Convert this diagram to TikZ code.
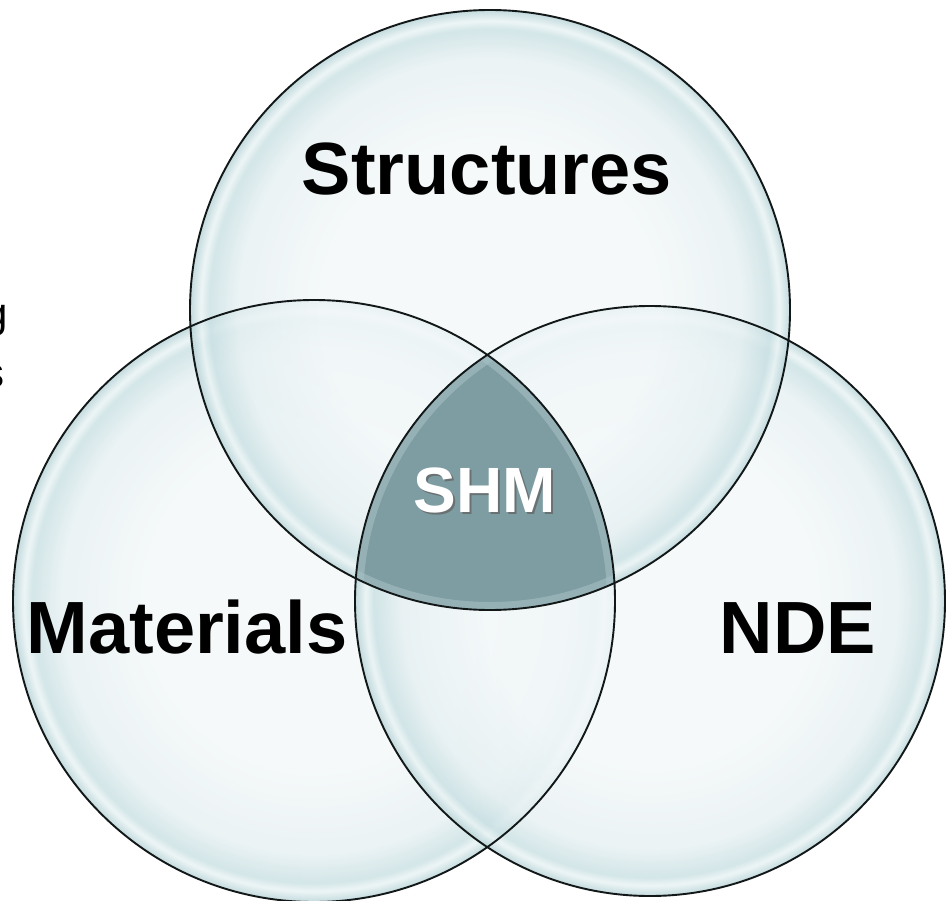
\documentclass[tikz,border=0pt]{standalone}
\usepackage{fontspec}
\setmainfont{Liberation Sans}
\usetikzlibrary{shadings}
\definecolor{bubA}{HTML}{F3F8F9}
\definecolor{bubB}{HTML}{E6F0F2}
\definecolor{bubC}{HTML}{C9E0E3}
\definecolor{bubD}{HTML}{E9F3F4}
\definecolor{bubE}{HTML}{B5D2D6}
\definecolor{shmA}{HTML}{7D9DA3}
\definecolor{shmB}{HTML}{A9C3C7}
\definecolor{rimc}{HTML}{121718}
\pgfdeclareradialshading{bubble}{\pgfpoint{0bp}{0bp}}{%
  color(0bp)=(bubA); color(14bp)=(bubA); color(21bp)=(bubB);
  color(23.4bp)=(bubC); color(24.1bp)=(bubD); color(25bp)=(bubE); color(50bp)=(bubE)}
\tikzset{
  bubblefill/.style={shading=bubble, fill opacity=0.8},
  rim/.style={draw=rimc, line width=1.9pt},
  biglabel/.style={font=\bfseries\fontsize{74}{80}\selectfont, inner sep=0pt, anchor=base},
  cutlabel/.style={font=\fontsize{42}{48}\selectfont, inner sep=0pt, anchor=base east}
}
\begin{document}
\begin{tikzpicture}[x=1pt,y=-1pt]
\useasboundingbox (0,0) rectangle (947,901);
\fill[white] (0,0) rectangle (947,901);
% circle centres
\coordinate (cS) at (490,310);
\coordinate (cM) at (314,601);
\coordinate (cN) at (650,601);
% fills
\shade[bubblefill] (cM) circle [radius=301pt];
\shade[bubblefill] (cN) circle [radius=295pt];
\shade[bubblefill] (cS) circle [radius=300pt];
% triple intersection
\begin{scope}
  \clip (cS) circle [radius=300pt];
  \clip (cM) circle [radius=301pt];
  \clip (cN) circle [radius=295pt];
  \fill[shmA] (300,300) rectangle (700,700);
  \draw[shmB, line width=16pt, opacity=0.55] (cS) circle [radius=300pt];
  \draw[shmB, line width=16pt, opacity=0.55] (cM) circle [radius=301pt];
  \draw[shmB, line width=16pt, opacity=0.55] (cN) circle [radius=295pt];
\end{scope}
% outlines
\draw[rim] (cM) circle [radius=301pt];
\draw[rim] (cN) circle [radius=295pt];
\draw[rim] (cS) circle [radius=300pt];
% labels
\node[biglabel] (lS) at (487,195) {Structures};
\node[biglabel] (lM) at (187,653) {Materials};
\node[biglabel] (lN) at (798,653) {NDE};
\node[font=\bfseries\fontsize{64}{70}\selectfont, inner sep=0pt, anchor=base, text=black!60, opacity=0.8] (shmshadow) at (487,514) {SHM};
\node[font=\bfseries\fontsize{64}{70}\selectfont, inner sep=0pt, anchor=base, text=white] (shm) at (485,512) {SHM};
% cut-off text at left edge
\node[cutlabel] (cutg) at (8,327) {g};
\node[cutlabel] (cuts) at (5,387) {s};
\end{tikzpicture}
\end{document}
